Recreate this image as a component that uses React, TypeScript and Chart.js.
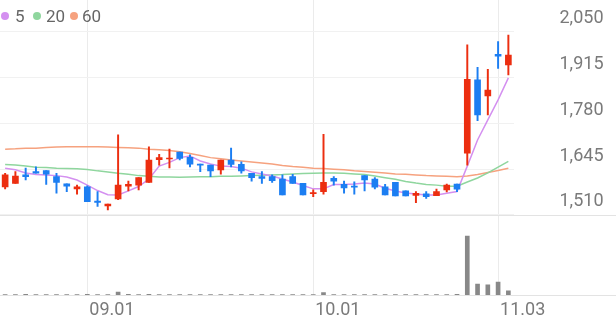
import React, { useEffect, useRef } from 'react';
import { Chart, registerables } from 'chart.js';

Chart.register(...registerables);

// ---- data ----
const candleIndex = Array.from({ length: 50 }, (_, i) => String(i));
const tickIndex = [8, 30, 48];
const tickText = ['09.01', '10.01', '11.03'];
const priceTicks = [1510, 1645, 1780, 1915, 2050];

const opens = [1593, 1603, 1628, 1638, 1641, 1623, 1602, 1587, 1593, 1551, 1537, 1557, 1595, 1598, 1606, 1673, 1675, 1695, 1680, 1660, 1657, 1643, 1672, 1659, 1633, 1623, 1623, 1616, 1623, 1603, 1573, 1579, 1618, 1600, 1595, 1626, 1616, 1593, 1606, 1581, 1568, 1572, 1567, 1584, 1601, 1692, 1908, 1861, 1983, 1952];
const highs = [1633, 1638, 1648, 1652, 1641, 1633, 1602, 1598, 1596, 1579, 1542, 1746, 1610, 1620, 1711, 1689, 1704, 1695, 1687, 1660, 1657, 1672, 1707, 1667, 1633, 1638, 1628, 1628, 1630, 1603, 1584, 1748, 1623, 1610, 1608, 1626, 1620, 1600, 1606, 1581, 1579, 1579, 1586, 1601, 1601, 2011, 1945, 1939, 2021, 2040];
const lows = [1587, 1603, 1613, 1633, 1600, 1574, 1579, 1571, 1549, 1535, 1525, 1555, 1581, 1584, 1606, 1657, 1649, 1672, 1652, 1638, 1623, 1630, 1652, 1633, 1610, 1603, 1606, 1569, 1603, 1569, 1564, 1571, 1598, 1574, 1571, 1581, 1587, 1569, 1566, 1566, 1546, 1559, 1567, 1578, 1579, 1657, 1788, 1805, 1942, 1923];
const closes = [1628, 1625, 1623, 1633, 1630, 1606, 1595, 1593, 1549, 1547, 1542, 1598, 1600, 1620, 1672, 1679, 1678, 1677, 1660, 1657, 1640, 1672, 1659, 1640, 1620, 1618, 1611, 1569, 1603, 1569, 1576, 1606, 1610, 1590, 1592, 1613, 1592, 1569, 1566, 1566, 1574, 1564, 1579, 1598, 1586, 1910, 1805, 1878, 1978, 1981];
const volumes = [30000, 25000, 35000, 25000, 30000, 30000, 25000, 20000, 35000, 30000, 30000, 180000, 35000, 25000, 45000, 30000, 30000, 25000, 25000, 20000, 25000, 25000, 30000, 20000, 25000, 25000, 20000, 30000, 25000, 25000, 30000, 150000, 30000, 25000, 20000, 25000, 30000, 25000, 30000, 25000, 25000, 20000, 30000, 30000, 35000, 3500000, 650000, 600000, 770000, 240000];

const ma5 = [1648, 1643, 1634, 1629, 1628, 1626, 1622, 1613, 1598, 1582, 1570, 1569, 1581, 1594, 1616, 1654, 1665, 1679, 1684, 1669, 1660, 1654, 1653, 1648, 1637, 1631, 1625, 1616, 1607, 1597, 1587, 1587, 1600, 1600, 1601, 1604, 1601, 1589, 1581, 1575, 1572, 1569, 1569, 1574, 1579, 1654, 1731, 1790, 1849, 1914];
const ma20 = [1659, 1657, 1654, 1651, 1650, 1648, 1647, 1646, 1644, 1640, 1637, 1633, 1630, 1626, 1624, 1622, 1622, 1621, 1622, 1623, 1623, 1624, 1624, 1625, 1626, 1627, 1628, 1629, 1631, 1632, 1633, 1634, 1634, 1633, 1631, 1629, 1625, 1620, 1615, 1609, 1604, 1600, 1598, 1595, 1595, 1607, 1619, 1634, 1651, 1668];
const ma60 = [1704, 1705, 1707, 1707, 1709, 1710, 1711, 1711, 1711, 1711, 1710, 1709, 1708, 1707, 1704, 1702, 1700, 1696, 1691, 1685, 1679, 1676, 1672, 1669, 1666, 1663, 1660, 1656, 1653, 1651, 1648, 1647, 1645, 1643, 1640, 1638, 1636, 1634, 1631, 1630, 1628, 1626, 1625, 1624, 1623, 1625, 1629, 1635, 1641, 1648];

const maLabels = ['5', '20', '60'];
const maColors = ['#d490f0', '#8fd69e', '#f6a27f'];

// ---- styles ----
const UP = '#ec2e10';
const DOWN = '#1c7ef2';
const PRICE_MIN = 1274.3;
const PRICE_MAX = 2143.4;
const VOL_MAX = 17500000;
const FONT = { family: 'Roboto', size: 18 };
const TEXT = '#7a7a7a';

const separatorPlugin = {
  id: 'separators',
  beforeDatasetsDraw(chart: any) {
    const { ctx, chartArea, scales } = chart;
    const y1 = Math.round(scales.y.getPixelForValue(priceTicks[0])) + 0.5;
    const y2 = Math.round(chartArea.bottom) + 0.5;
    ctx.save();
    ctx.strokeStyle = '#e3e3e3';
    ctx.lineWidth = 1;
    ctx.beginPath();
    ctx.moveTo(0, y1);
    ctx.lineTo(chart.width, y1);
    ctx.moveTo(0, y2);
    ctx.lineTo(chart.width, y2);
    ctx.stroke();
    ctx.restore();
  },
};

export default function App() {
  const ref = useRef<HTMLCanvasElement | null>(null);

  useEffect(() => {
    if (!ref.current) return;
    const colors = opens.map((o, i) => (closes[i] >= o ? UP : DOWN));
    const maData = [ma5, ma20, ma60];
    const chart = new Chart(ref.current, {
      type: 'bar',
      data: {
        labels: candleIndex,
        datasets: [
          {
            type: 'bar',
            label: 'body',
            data: opens.map((o, i) => [o, closes[i]]),
            backgroundColor: colors,
            barThickness: 6,
            grouped: false,
            yAxisID: 'y',
            order: 0,
          } as any,
          {
            type: 'bar',
            label: 'wick',
            data: lows.map((l, i) => [l, highs[i]]),
            backgroundColor: colors,
            barThickness: 1.3,
            grouped: false,
            yAxisID: 'y',
            order: 1,
          } as any,
          {
            type: 'bar',
            label: 'volume',
            data: volumes,
            backgroundColor: '#888888',
            barThickness: 4,
            grouped: false,
            yAxisID: 'yv',
            order: 2,
          } as any,
          ...maData.map((d, k) => ({
            type: 'line',
            label: maLabels[k],
            data: d,
            borderColor: maColors[k],
            borderWidth: 1.5,
            pointRadius: 0,
            tension: 0,
            yAxisID: 'y',
            order: 3 + k,
          } as any)),
        ],
      },
      options: {
        responsive: false,
        animation: false,
        layout: { padding: { left: 0, right: 13, top: 0, bottom: 0 } },
        plugins: { legend: { display: false }, tooltip: { enabled: false } },
        scales: {
          x: {
            type: 'category',
            offset: true,
            border: { display: false },
            grid: {
              offset: false,
              drawTicks: false,
              color: (ctx: any) => (tickIndex.includes(ctx.index) ? '#ebebeb' : 'transparent'),
            },
            ticks: {
              autoSkip: false,
              maxRotation: 0,
              minRotation: 0,
              align: 'start',
              padding: 5,
              labelOffset: 2,
              color: TEXT,
              font: FONT,
              callback: (_v: any, i: number) => {
                const k = tickIndex.indexOf(i);
                return k >= 0 ? tickText[k] : '';
              },
            },
            afterFit: (s: any) => {
              s.height = 26;
              s.paddingLeft = 0;
              s.paddingRight = 0;
            },
          } as any,
          y: {
            position: 'right',
            min: PRICE_MIN,
            max: PRICE_MAX,
            border: { display: false },
            afterBuildTicks: (s: any) => {
              s.ticks = priceTicks.map((v) => ({ value: v }));
            },
            grid: { drawTicks: false, color: '#f1f1f1' },
            ticks: {
              crossAlign: 'near',
              padding: 46,
              labelOffset: -13,
              color: TEXT,
              font: FONT,
              callback: (v: any) => Number(v).toLocaleString('en-US'),
            },
            afterFit: (s: any) => {
              s.width = 89.5;
              s.paddingTop = 0;
              s.paddingBottom = 0;
            },
          } as any,
          yv: {
            display: false,
            min: 0,
            max: VOL_MAX,
          },
        },
      },
      plugins: [separatorPlugin],
    } as any);
    return () => chart.destroy();
  }, []);

  const legendDots = [5.3, 37, 74];
  const legendText = [15, 46, 82];

  return (
    <div style={{ position: 'absolute', left: 0, top: 0, width: 616, height: 321, background: '#fff' }}>
      <canvas ref={ref} width={616} height={321} style={{ display: 'block' }} />
      {maLabels.map((l, k) => (
        <React.Fragment key={l}>
          <span
            style={{
              position: 'absolute',
              left: legendDots[k] - 4,
              top: 11.7,
              width: 8,
              height: 8,
              borderRadius: '50%',
              background: maColors[k],
            }}
          />
          <span
            style={{
              position: 'absolute',
              left: legendText[k],
              top: 7.5,
              lineHeight: '17px',
              fontFamily: 'Roboto',
              fontSize: 17,
              color: '#666',
              whiteSpace: 'nowrap',
            }}
          >
            {l}
          </span>
        </React.Fragment>
      ))}
    </div>
  );
}
